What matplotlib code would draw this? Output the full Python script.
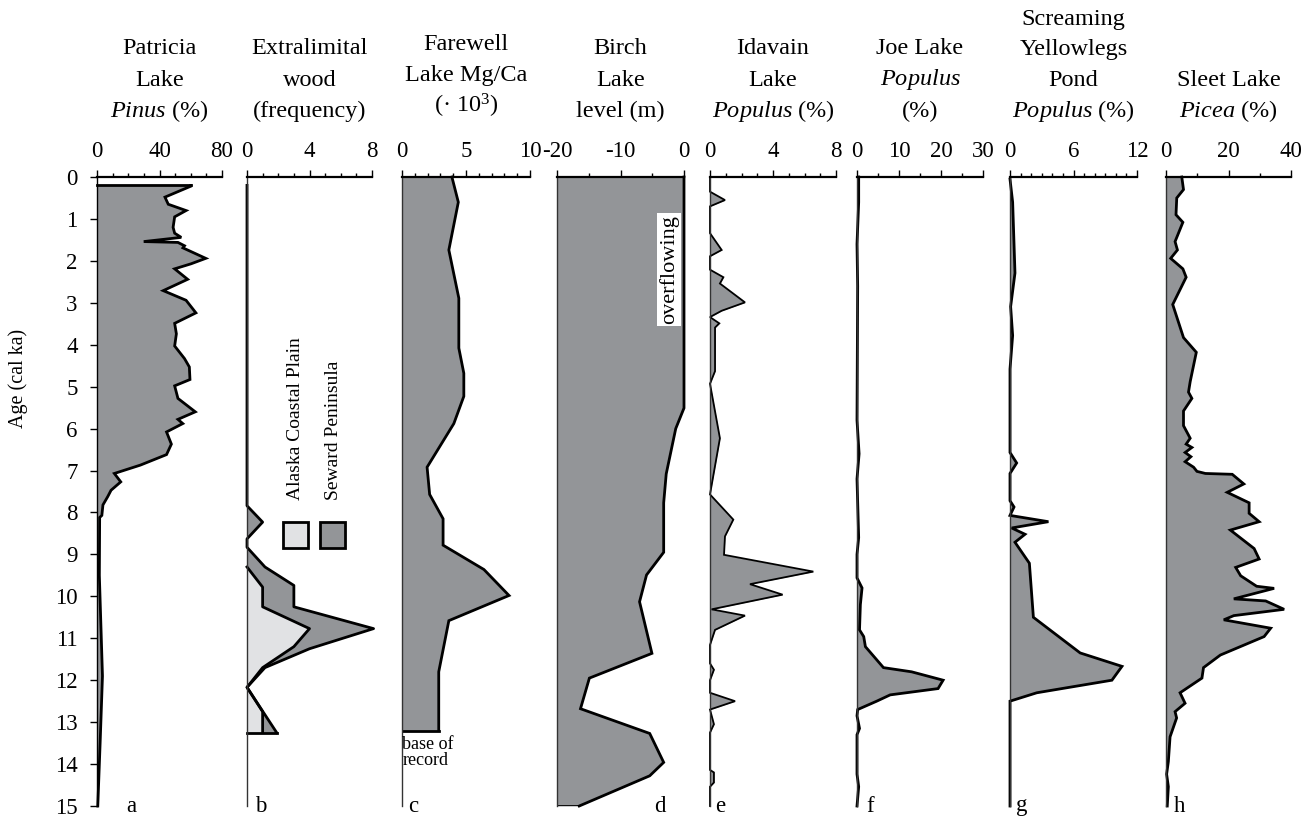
import matplotlib
matplotlib.use("Agg")
import matplotlib.pyplot as plt
from matplotlib.patches import Rectangle

plt.rcParams['font.family'] = ['Liberation Serif', 'DejaVu Serif']
plt.rcParams['mathtext.fontset'] = 'custom'
plt.rcParams['mathtext.rm'] = 'Liberation Serif'
plt.rcParams['mathtext.it'] = 'Liberation Serif:italic'
plt.rcParams['axes.unicode_minus'] = False

# ---- data (age in cal ka, value) ----
patricia_age = [0.2, 0.22, 0.48, 0.65, 0.80, 0.95, 1.20, 1.34, 1.44, 1.54, 1.56, 1.64, 1.69, 1.94,
                2.07, 2.19, 2.44, 2.71, 2.94, 3.24, 3.49, 3.74, 4.03, 4.33, 4.53, 4.83, 4.98,
                5.28, 5.60, 5.78, 5.88, 6.08, 6.37, 6.62, 6.87, 7.07, 7.27, 7.47, 7.62, 7.82,
                8.07, 8.12, 9.5, 11.9, 13.5, 15.0]
patricia_pinus = [60, 60, 43.5, 45.6, 57, 49.7, 48.7, 49.7, 53.9, 29.9, 51.8, 56, 55, 69.6,
                  60.2, 49.7, 58, 42.4, 57, 63.3, 49.7, 50.8, 49.7, 56, 59.1, 59.5, 49.7,
                  51.8, 62.9, 51.8, 54.9, 44.5, 47.6, 44.5, 27.8, 11.1, 15.2, 9, 6.9, 3.8,
                  3.1, 1.7, 1.5, 3.5, 2.0, 0.5]

wood_total_age = [0.2, 7.84, 8.23, 8.63, 8.83, 9.30, 9.74, 10.25, 10.77, 11.25, 11.70, 12.17, 13.25]
wood_total = [0, 0, 1.0, 0, 0, 1.15, 3.0, 3.0, 8.1, 4.0, 1.15, 0, 1.9]
wood_acp_age = [9.30, 9.78, 10.25, 10.77, 11.20, 11.70, 12.17, 12.75, 13.25]
wood_acp = [0, 1.0, 1.0, 4.0, 3.0, 1.0, 0, 1.0, 1.0]

farewell_age = [0, 0.6, 1.74, 2.89, 4.08, 4.68, 5.23, 5.88, 6.92, 7.57, 8.15, 8.78, 9.36,
                9.98, 10.58, 11.8, 13.2]
farewell_mgca = [3.9, 4.4, 3.66, 4.44, 4.44, 4.83, 4.83, 4.05, 1.96, 2.16, 3.21, 3.21, 6.4,
                 8.36, 3.66, 2.87, 2.87]

birch_age = [0, 5.51, 6.0, 7.08, 7.77, 8.95, 9.49, 10.13, 11.36, 11.95, 12.68, 13.27, 13.96,
             14.28, 15.0]
birch_level = [0, 0, -1.3, -2.8, -3.2, -3.2, -5.9, -7.0, -5.05, -14.9, -16.3, -5.4, -3.2,
               -5.4, -16.5]

idavain_age = [0.0, 0.35, 0.55, 0.70, 1.34, 1.74, 1.89, 2.21, 2.39, 2.54, 2.99, 3.19, 3.34,
               3.49, 3.59, 4.63, 4.93, 6.23, 7.57, 8.17, 8.57, 9.01, 9.41, 9.71, 9.96, 10.31,
               10.46, 10.8, 11.16, 11.6, 11.75, 12.0, 12.3, 12.5, 12.7, 13.05, 13.25, 14.14,
               14.2, 14.44, 14.54, 15.0]
idavain_populus = [0, 0, 0.95, 0, 0, 0.74, 0, 0, 0.85, 0.63, 2.22, 0.74, 0,
                   0.59, 0.32, 0.32, 0, 0.63, 0, 1.48, 0.95, 0.89, 6.56, 2.54, 4.61, 0.1,
                   2.22, 0.32, 0, 0, 0.25, 0, 0, 1.59, 0, 0.25, 0, 0,
                   0.25, 0.25, 0, 0]

joe_age = [0, 0.6, 1.6, 2.6, 5.8, 6.6, 7.2, 8.6, 9.0, 9.56, 9.8, 10.2, 10.8, 10.96, 11.2,
           11.7, 11.8, 12.0, 12.2, 12.35, 12.5, 12.7, 12.85, 13.15, 13.3, 14.24, 14.54, 15.0]
joe_populus = [0.4, 0.4, 0, 0.16, 0, 0.5, 0, 0.4, 0, 0, 1.2, 0.8, 0.6, 1.6, 2.0,
               6.3, 13, 20.5, 19.3, 7.9, 4.7, 0.16, 0, 0.6, 0, 0, 0.4, 0]

screaming_age = [0.05, 0.6, 2.29, 3.09, 3.78, 4.58, 6.57, 6.82, 7.07, 7.72, 7.87, 8.07, 8.22,
                 8.37, 8.52, 8.71, 9.21, 10.5, 11.35, 11.67, 12.0, 12.3, 12.5, 15.0]
screaming_populus = [0, 0.25, 0.47, 0.06, 0.25, 0, 0, 0.63, 0, 0, 0.38, 0, 3.63,
                     0.16, 1.42, 0.47, 1.83, 2.21, 6.63, 10.58, 9.63, 2.53, 0, 0]

sleet_age = [0, 0.3, 0.5, 0.9, 1.08, 1.54, 1.74, 1.94, 2.19, 2.39, 3.04, 3.83, 4.18, 4.88,
             5.13, 5.28, 5.58, 5.93, 6.23, 6.37, 6.45, 6.57, 6.67, 6.79, 6.92, 7.02, 7.07,
             7.09, 7.32, 7.52, 7.77, 8.02, 8.22, 8.42, 8.86, 9.11, 9.31, 9.51, 9.76, 9.81,
             10.06, 10.11, 10.31, 10.46, 10.56, 10.76, 10.96, 11.4, 11.7, 11.95, 12.3, 12.55,
             12.75, 12.9, 13.35, 13.94, 14.24, 14.54, 15.0]
sleet_picea = [5.05, 5.6, 3.44, 3.2, 5.4, 2.9, 3.66, 1.5, 5.4, 6.45, 2.15, 5.6, 9.7, 7.74,
               7.2, 8.28, 5.6, 5.6, 7.74, 6.45, 8.28, 6.13, 7.96, 6.13, 8.82, 9.9, 12.6,
               21.2, 24.9, 19.6, 26.6, 26.6, 29.8, 20.6, 28.2, 29.8, 22.3, 23.9, 29.0, 34.6,
               21.7, 31.9, 37.8, 21.7, 18.5, 33.5, 31.4, 17.4, 12.0, 11.5, 4.5, 6.1,
               2.9, 3.4, 1.3, 0.75, 0.2, 0.75, 0.4]

titles = [
    ["Patricia", "Lake", "$\\mathit{Pinus}$ (%)"],
    ["Extralimital", "wood", "(frequency)"],
    ["Farewell", "Lake Mg/Ca", "(· 10$^3$)"],
    ["Birch", "Lake", "level (m)"],
    ["Idavain", "Lake", "$\\mathit{Populus}$ (%)"],
    ["Joe Lake", "$\\mathit{Populus}$", "(%)"],
    ["Screaming", "Yellowlegs", "Pond", "$\\mathit{Populus}$ (%)"],
    ["Sleet Lake", "$\\mathit{Picea}$ (%)"],
]
letters = ["a", "b", "c", "d", "e", "f", "g", "h"]
xlims = [(0, 80), (0, 8), (0, 10), (-20, 0), (0, 8), (0, 30), (0, 12), (0, 40)]
majors = [[0, 40, 80], [0, 4, 8], [0, 5, 10], [-20, -10, 0], [0, 4, 8],
          [0, 10, 20, 30], [0, 6, 12], [0, 20, 40]]
minor_step = [10, 1, 1, 5, 1, 5, 1, 10]

# ---- layout (pixels) ----
W, H = 1313, 818
TOP, BOT = 177, 806
lefts = [97, 247, 402, 557, 710, 857, 1010, 1166]
widths = [125, 125, 128, 127, 126, 126, 127, 125]
letter_x = [0.272, 0.112, 0.086, 0.811, 0.079, 0.103, 0.094, 0.112]
row_y = [19, 49, 80, 111]
DARK = "#939598"
LIGHT = "#e1e2e4"
FS = 16.5
TFS = 17.5

fig = plt.figure(figsize=(W / 100, H / 100), dpi=100)

axes = []
for i in range(8):
    ax = fig.add_axes([lefts[i] / W, 1 - BOT / H, widths[i] / W, (BOT - TOP) / H])
    ax.set_xlim(*xlims[i])
    ax.set_ylim(15, 0)
    ax.xaxis.tick_top()
    ax.set_xticks(majors[i])
    lo, hi = xlims[i]
    n = int(round((hi - lo) / minor_step[i]))
    ax.set_xticks([lo + k * minor_step[i] for k in range(n + 1)], minor=True)
    ax.tick_params(axis='x', which='major', direction='out', length=5, width=1,
                   labelsize=FS, pad=6)
    ax.tick_params(axis='x', which='minor', direction='out', length=3, width=1)
    for s in ['right', 'bottom']:
        ax.spines[s].set_visible(False)
    ax.spines['top'].set_linewidth(1.6)
    ax.spines['left'].set_linewidth(1.0)
    if i == 0:
        ax.set_yticks(range(16))
        ax.tick_params(axis='y', direction='out', length=5, width=1, labelsize=FS, pad=9)
    else:
        ax.set_yticks([])
        ax.spines['left'].set_color('#333333')
    ax.text(letter_x[i], 0.0, letters[i], transform=ax.transAxes, ha='center', va='center',
            fontsize=FS)
    cx = (lefts[i] + widths[i] / 2) / W
    lines = titles[i]
    rows = row_y[4 - len(lines):]
    for txt, ry in zip(lines, rows):
        if i == 2:
            ry -= 5
        fig.text(cx, 1 - ry / H, txt, ha='center', va='center', fontsize=TFS)
    axes.append(ax)


def profile(ax, ages, vals, base=0, lw=2.0):
    ax.fill_betweenx(ages, base, vals, color=DARK, lw=0)
    ax.plot(vals, ages, color='k', lw=lw, solid_joinstyle='miter', clip_on=False)


# a  Patricia Lake
ax = axes[0]
profile(ax, patricia_age, patricia_pinus)
ax.plot([0, patricia_pinus[0]], [patricia_age[0]] * 2, color='k', lw=2, clip_on=False)

# b  extralimital wood
ax = axes[1]
ax.fill_betweenx(wood_total_age, 0, wood_total, color=DARK, lw=0)
ax.fill_betweenx(wood_acp_age, 0, wood_acp, color=LIGHT, lw=0)
ax.plot(wood_total, wood_total_age, color='k', lw=2, clip_on=False)
ax.plot(wood_acp, wood_acp_age, color='k', lw=2, clip_on=False)
ax.plot([0, wood_total[-1]], [wood_total_age[-1]] * 2, color='k', lw=2, clip_on=False)
ax.add_patch(Rectangle((0.288, 0.41), 0.2, 0.041, transform=ax.transAxes,
                       facecolor=LIGHT, edgecolor='k', lw=2))
ax.add_patch(Rectangle((0.584, 0.41), 0.2, 0.041, transform=ax.transAxes,
                       facecolor=DARK, edgecolor='k', lw=2))
ax.text(0.384, 0.487, "Alaska Coastal Plain", transform=ax.transAxes, rotation=90,
        ha='center', va='bottom', fontsize=14)
ax.text(0.688, 0.487, "Seward Peninsula", transform=ax.transAxes, rotation=90,
        ha='center', va='bottom', fontsize=14)

# c  Farewell Lake
ax = axes[2]
profile(ax, farewell_age, farewell_mgca)
ax.plot([0, farewell_mgca[-1]], [farewell_age[-1]] * 2, color='k', lw=2)
ax.text(0.02, 13.32, "base of\nrecord", ha='left', va='top', fontsize=13, linespacing=0.95)

# d  Birch Lake
ax = axes[3]
profile(ax, birch_age, birch_level, base=-20)
ax.plot([-20, birch_level[-1]], [birch_age[-1]] * 2, color='k', lw=2)
ax.text(-0.8, 2.2, "overflowing", rotation=90, ha='right', va='center', fontsize=16,
        bbox=dict(facecolor='white', edgecolor='none', pad=1.5))

# e  Idavain Lake
profile(axes[4], idavain_age, idavain_populus, lw=1.3)
# f  Joe Lake
profile(axes[5], joe_age, joe_populus)
# g  Screaming Yellowlegs Pond
profile(axes[6], screaming_age, screaming_populus)
# h  Sleet Lake
profile(axes[7], sleet_age, sleet_picea)

fig.text(18 / W, 1 - 378 / H, "Age (cal ka)", rotation=90, ha='center', va='center',
         fontsize=14.5)

fig.savefig("out.png", dpi=100)
